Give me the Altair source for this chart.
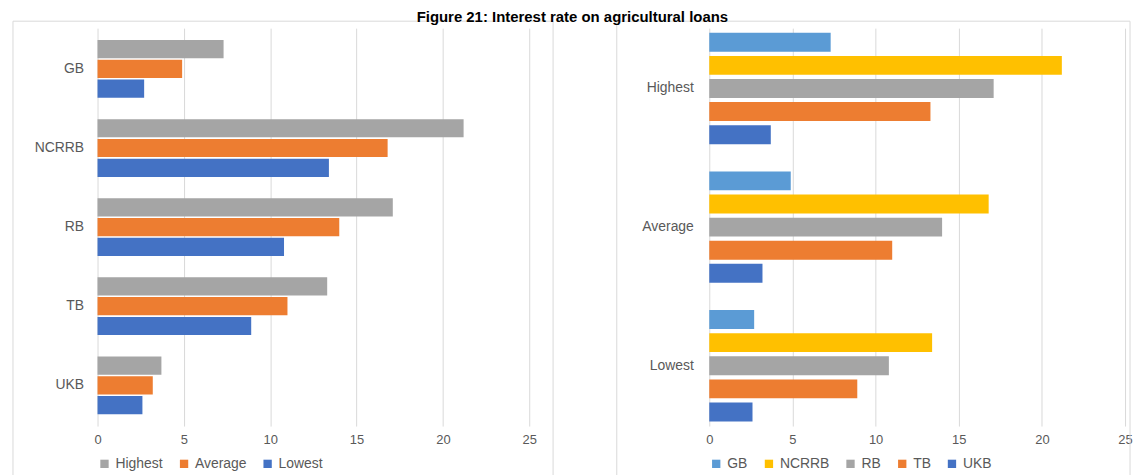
import altair as alt
import pandas as pd

banks = ["GB", "NCRRB", "RB", "TB", "UKB"]
measures = ["Highest", "Average", "Lowest"]
highest = [7.3, 21.2, 17.1, 13.3, 3.7]
average = [4.9, 16.8, 14.0, 11.0, 3.2]
lowest = [2.7, 13.4, 10.8, 8.9, 2.6]

measure_colors = ["#A5A5A5", "#ED7D31", "#4472C4"]
bank_colors = ["#5B9BD5", "#FFC000", "#A5A5A5", "#ED7D31", "#4472C4"]

rows = []
for i, b in enumerate(banks):
    for m, vals in zip(measures, [highest, average, lowest]):
        rows.append({"bank": b, "measure": m, "value": vals[i],
                     "lkey": b + "|" + m, "rkey": m + "|" + b})
df = pd.DataFrame(rows)

# band domains: one empty slot between groups
left_domain = []
for gi, b in enumerate(banks):
    if gi > 0:
        left_domain.append(b + "|gap")
    left_domain += [b + "|" + m for m in measures]
right_domain = []
for gi, m in enumerate(measures):
    if gi > 0:
        right_domain.append(m + "|gap")
    right_domain += [m + "|" + b for b in banks]

left_ticks = [b + "|" + measures[1] for b in banks]
right_ticks = [m + "|" + banks[2] for m in measures]

FONT = "Liberation Sans"
LBL = "#595959"
GRID = "#D9D9D9"

xaxis = alt.Axis(values=[0, 5, 10, 15, 20, 25], grid=True, gridColor=GRID, domain=False,
                 ticks=False, labelColor=LBL, labelFontSize=13, labelFont=FONT,
                 labelPadding=8, labelFlush=False, title=None)
xscale = alt.Scale(domain=[0, 25], nice=False)

L_W, R_W, H = 434, 418, 400


def legend():
    return alt.Legend(title=None, orient="bottom", direction="horizontal",
                      symbolType="square", symbolSize=70, labelFontSize=14,
                      labelFont=FONT, labelColor=LBL, columnPadding=14,
                      symbolStrokeWidth=0, offset=10)


left_bars = alt.Chart(df).mark_bar().encode(
    x=alt.X("value:Q", scale=xscale, axis=xaxis),
    y=alt.Y("lkey:N", scale=alt.Scale(domain=left_domain, paddingInner=0.08, paddingOuter=0.6),
            axis=alt.Axis(title=None, domain=False, ticks=False, labelColor=LBL,
                          values=left_ticks, labelExpr="split(datum.value, '|')[0]",
                          labelFontSize=14, labelFont=FONT, labelPadding=14)),
    color=alt.Color("measure:N", scale=alt.Scale(domain=measures, range=measure_colors),
                    legend=legend()),
)

border_df = pd.DataFrame({"k": [0]})
left_border = alt.Chart(border_df).mark_rect(fill=None, stroke=GRID, strokeWidth=1).encode(
    x=alt.value(-85), x2=alt.value(L_W + 24), y=alt.value(-7), y2=alt.value(H + 60)
)
left = alt.layer(left_bars, left_border).properties(width=L_W, height=H)

right_bars = alt.Chart(df).mark_bar().encode(
    x=alt.X("value:Q", scale=xscale, axis=xaxis),
    y=alt.Y("rkey:N", scale=alt.Scale(domain=right_domain, paddingInner=0.18, paddingOuter=0.2),
            axis=alt.Axis(title=None, domain=False, ticks=False, labelColor=LBL,
                          values=right_ticks, labelExpr="split(datum.value, '|')[0]",
                          labelFontSize=14, labelFont=FONT, labelPadding=16)),
    color=alt.Color("bank:N", scale=alt.Scale(domain=banks, range=bank_colors),
                    legend=legend()),
)
right_border = alt.Chart(border_df).mark_rect(fill=None, stroke=GRID, strokeWidth=1).encode(
    x=alt.value(-93), x2=alt.value(R_W + 5), y=alt.value(-7), y2=alt.value(H + 60)
)
right = alt.layer(right_bars, right_border).properties(width=R_W, height=H)

chart = alt.hconcat(left, right, spacing=62).resolve_scale(color="independent").properties(
    title=alt.TitleParams("Figure 21: Interest rate on agricultural loans", anchor="middle",
                          fontSize=15, font=FONT, fontWeight="bold", color="#000000", offset=-4),
    padding={"left": 4, "top": 0, "right": 0, "bottom": 0},
).configure_view(stroke=None).configure_axis(gridColor=GRID)

chart.save("out.html", embed_options={"renderer": "svg", "actions": False})
